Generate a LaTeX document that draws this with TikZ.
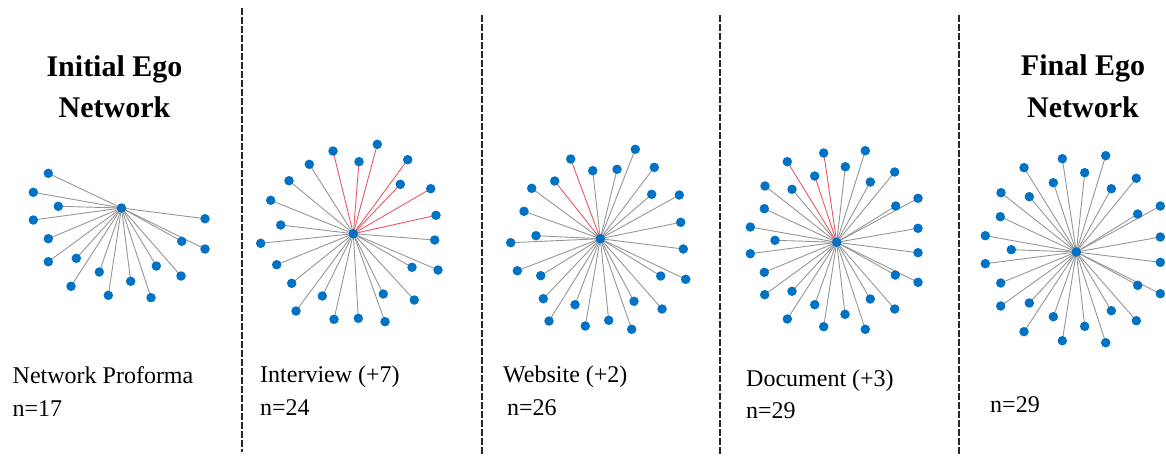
\documentclass[tikz,border=0pt]{standalone}
\usepackage{fontspec}
\setmainfont{Liberation Serif}
\pgfdeclarelayer{bg}
\pgfsetlayers{bg,main}
\definecolor{dotblue}{RGB}{0,114,198}
\definecolor{edgegray}{RGB}{150,150,150}
\definecolor{edgered}{RGB}{232,88,100}
\definecolor{sepgray}{RGB}{40,40,40}
\tikzset{
  dot/.style={circle,fill=dotblue,draw=none,inner sep=0pt,minimum size=9.5pt},
  edge/.style={line width=0.9pt},
  sepline/.style={draw=sepgray,line width=1.3pt,dash pattern=on 7pt off 2pt},
  title/.style={font=\fontsize{30}{36}\selectfont\bfseries,anchor=base},
  label/.style={font=\fontsize{24}{28}\selectfont,anchor=base west,inner sep=0pt},
}
\newcommand{\egonet}[3]{%
  \node[dot] (#1c) at #2 {};
  \foreach \x/\y/\c [count=\i] in {#3} {
    \node[dot] (#1\i) at (\x,\y) {};
    \begin{pgfonlayer}{bg}
      \draw[edge,draw=\c] (#1c.center) -- (#1\i.center);
    \end{pgfonlayer}
  }%
}
\begin{document}
\begin{tikzpicture}[x=1pt,y=-1pt]
\useasboundingbox (0,0) rectangle (1166,455);
% separators
\draw[sepline] (242,8) -- (242,452);
\draw[sepline] (482,15) -- (482,455);
\draw[sepline] (720,15) -- (720,455);
\draw[sepline] (959,15) -- (959,455);
% titles
\node[title] (t1a) at (114.5,76) {Initial Ego};
\node[title] (t1b) at (114.5,117) {Network};
\node[title] (t5a) at (1083,75) {Final Ego};
\node[title] (t5b) at (1083,117) {Network};
% labels
\node[label] (l1a) at (12.5,383) {Network Proforma};
\node[label] (l1b) at (12.5,416.5) {n=17};
\node[label] (l2a) at (260,382) {Interview (+7)};
\node[label] (l2b) at (260,415) {n=24};
\node[label] (l3a) at (503,382) {Website (+2)};
\node[label] (l3b) at (507,415) {n=26};
\node[label] (l4a) at (746,386) {Document (+3)};
\node[label] (l4b) at (746,418) {n=29};
\node[label] (l5b) at (990,412) {n=29};
% network 1
\egonet{a}{(121.5,208)}{48.3/173.3/edgegray, 33.3/192.3/edgegray, 58.3/206.3/edgegray, 33.3/220/edgegray, 48.3/238.7/edgegray, 48.3/261.7/edgegray, 76.3/258.3/edgegray, 71/286.3/edgegray, 99.3/272/edgegray, 108.3/295.3/edgegray, 130.7/281.3/edgegray, 151/297.7/edgegray, 156.3/266/edgegray, 181/276/edgegray, 181.7/241.3/edgegray, 205/249/edgegray, 205/218.7/edgegray}
% network 2
\egonet{b}{(353.3,233.7)}{333/151/edgered, 377.3/144.3/edgered, 359/161.7/edgered, 407.7/159.7/edgered, 309.3/164.3/edgegray, 400.3/184.3/edgered, 289/180.7/edgegray, 430.7/188.7/edgered, 270.7/200.3/edgegray, 436/215.3/edgered, 280.7/225/edgegray, 260.7/243.3/edgegray, 434.7/240/edgegray, 276.7/264.7/edgegray, 412/267.3/edgegray, 438/270/edgegray, 291.7/283.3/edgegray, 322.3/296/edgegray, 383.3/294/edgegray, 414.3/300/edgegray, 296/311/edgegray, 334/319.3/edgegray, 358.3/318.3/edgegray, 385/321.7/edgegray}
% network 3
\egonet{c}{(600.3,238.7)}{635.3/149.3/edgegray, 570.7/159/edgered, 654.3/167.3/edgegray, 592.7/170.7/edgegray, 617/169.3/edgegray, 554.7/181/edgered, 531.7/188.3/edgegray, 651.7/194.3/edgegray, 679.3/195/edgegray, 524/211.3/edgegray, 680.7/222.3/edgegray, 536/235.7/edgegray, 510.7/242.7/edgegray, 683.3/249/edgegray, 517.3/270.7/edgegray, 540.7/275.7/edgegray, 660.7/276/edgegray, 685.7/279.3/edgegray, 543.3/298.7/edgegray, 575/304.7/edgegray, 634/301.3/edgegray, 662/309/edgegray, 549/321/edgegray, 585.3/326/edgegray, 608.7/320.3/edgegray, 631.7/329.3/edgegray}
% network 4
\egonet{d}{(836.7,242.3)}{865.3/150.7/edgegray, 823.7/153/edgered, 787.3/161.7/edgered, 845.3/166.7/edgegray, 894.7/172/edgegray, 814.7/176/edgered, 870.3/182/edgegray, 765/186/edgegray, 792/189.3/edgegray, 918/198.3/edgegray, 895.7/206/edgegray, 764.3/208.7/edgegray, 750.3/227/edgegray, 918/228.3/edgegray, 775/240.3/edgegray, 750.3/253.7/edgegray, 918/252.7/edgegray, 764.3/272.3/edgegray, 895.3/275/edgegray, 918/282.3/edgegray, 764.7/294.7/edgegray, 792/291.3/edgegray, 814.7/304.7/edgegray, 870.3/299/edgegray, 894.7/309/edgegray, 845/314.3/edgegray, 787.3/319/edgegray, 823.7/326.7/edgegray, 865.3/329.3/edgegray}
% network 5
\egonet{e}{(1076.3,252)}{1105.7/155.7/edgegray, 1062.3/158.7/edgegray, 1024/167.7/edgegray, 1084.7/172.7/edgegray, 1136.3/178.3/edgegray, 1053.3/182.7/edgegray, 1111.3/188.7/edgegray, 1001/192.7/edgegray, 1029.3/196.7/edgegray, 1160.3/206/edgegray, 1137.7/214/edgegray, 1000.3/216.7/edgegray, 985.3/235.7/edgegray, 1160.3/237/edgegray, 1011.3/249.7/edgegray, 985.3/263.7/edgegray, 1160.3/262.3/edgegray, 1000.7/283/edgegray, 1137.7/285.3/edgegray, 1160.3/293.7/edgegray, 1000.7/306/edgegray, 1029.3/303/edgegray, 1053.3/316.7/edgegray, 1111.3/310.7/edgegray, 1136.3/320.7/edgegray, 1084.7/326.3/edgegray, 1024/331.7/edgegray, 1062.3/340.7/edgegray, 1105.7/342.7/edgegray}
\end{tikzpicture}
\end{document}
